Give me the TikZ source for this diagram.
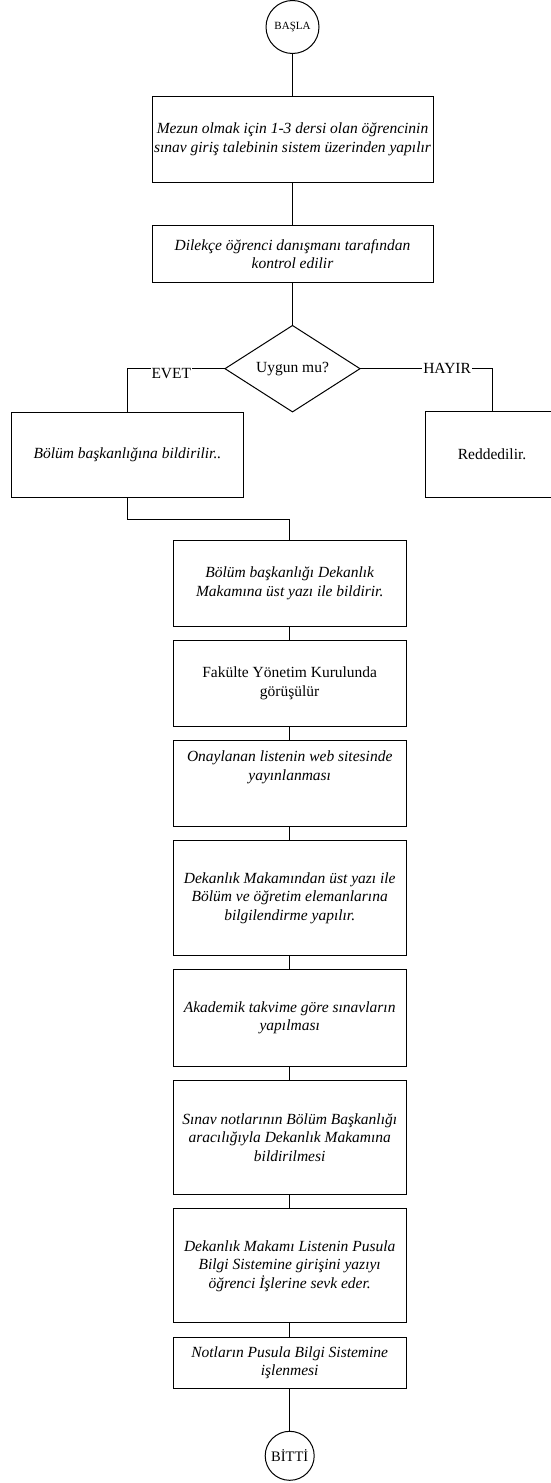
\documentclass[tikz,border=0pt]{standalone}
\usepackage{fontspec}
\setmainfont{Liberation Serif}
\usetikzlibrary{positioning,shapes.geometric}

\def\blocksep{43pt}
\def\stepsep{14.4pt}
\def\stepfont{\fontsize{15.5}{18.5}\selectfont}

\begin{document}
\begin{tikzpicture}[x=1pt,y=1pt,line width=1pt,node distance=\stepsep]
    \tikzstyle{terminal}=[circle,draw,inner sep=0pt,outer sep=0pt]
    \tikzstyle{stepbox}=[rectangle,draw,align=center,inner sep=2pt,outer sep=0pt,font=\stepfont\itshape]
    \tikzstyle{plain stepbox}=[stepbox,font=\stepfont]
    \tikzstyle{upper stepbox}=[stepbox,minimum width=281pt]
    \tikzstyle{lower stepbox}=[stepbox,minimum width=232.7pt]
    \tikzstyle{decision}=[diamond,draw,minimum width=135pt,minimum height=86pt,inner sep=0pt,outer sep=0pt,font=\stepfont]
    \tikzstyle{answer}=[fill=white,inner sep=1pt,font=\stepfont]

    \useasboundingbox (0,0) rectangle (550,-1483);

    % Start, request and check
    \node[terminal,minimum size=53pt,font=\fontsize{11}{13}\selectfont] (basla) at (292.5,-27) {BAŞLA};
    \node[upper stepbox,minimum height=86pt,below=\blocksep of basla] (talep)
        {Mezun olmak için 1-3 dersi olan öğrencinin\\ sınav giriş talebinin sistem üzerinden yapılır};
    \node[upper stepbox,minimum height=57pt,below=\blocksep of talep] (kontrol)
        {Dilekçe öğrenci danışmanı tarafından\\ kontrol edilir};

    % The decision and its two answers
    \node[decision,below=\blocksep of kontrol] (karar) {Uygun mu?};
    \node[stepbox,minimum width=232.7pt,minimum height=85.7pt] (bolum) at (127.4,-454.9)
        {Bölüm başkanlığına bildirilir..};
    \node[plain stepbox,minimum width=134pt,minimum height=85.3pt] (red) at (492,-454.5)
        {Reddedilir.};

    % Draw the steps after the approval
    \node[lower stepbox,minimum height=85.6pt] (S-1) at (289.7,-583.5)
        {Bölüm başkanlığı Dekanlık\\ Makamına üst yazı ile bildirir.};
    \node[lower stepbox,plain stepbox,minimum height=85.6pt,below=of S-1] (S-2)
        {Fakülte Yönetim Kurulunda\\ görüşülür};
    \node[lower stepbox,minimum height=85.6pt,below=of S-2] (S-3)
        {Onaylanan listenin web sitesinde\\ yayınlanması\\[17pt]~};
    \node[lower stepbox,minimum height=114.3pt,below=of S-3] (S-4)
        {Dekanlık Makamından üst yazı ile\\ Bölüm ve öğretim elemanlarına\\ bilgilendirme yapılır.};
    \node[lower stepbox,minimum height=97pt,below=of S-4] (S-5)
        {Akademik takvime göre sınavların\\ yapılması};
    \node[lower stepbox,minimum height=113.7pt,below=of S-5] (S-6)
        {Sınav notlarının Bölüm Başkanlığı\\ aracılığıyla Dekanlık Makamına\\ bildirilmesi};
    \node[lower stepbox,minimum height=114pt,below=of S-6] (S-7)
        {Dekanlık Makamı Listenin Pusula\\ Bilgi Sistemine girişini yazıyı\\ öğrenci İşlerine sevk eder.};
    \node[lower stepbox,minimum height=51pt,below=of S-7] (S-8)
        {Notların Pusula Bilgi Sistemine\\ işlenmesi};

    % End
    \node[terminal,minimum size=49pt,font=\fontsize{14.5}{17}\selectfont,below=\blocksep of S-8] (bitti) {BİTTİ};

    % Connect the top of the chart
    \draw (basla) -- (talep);
    \draw (talep) -- (kontrol);
    \draw (kontrol) -- (karar);
    \draw (karar.west) -| node[answer,pos=0.275,yshift=-5pt] {EVET} (bolum.north);
    \draw (karar.east) -| node[answer,pos=0.33] {HAYIR} (red.north);
    \draw (bolum.south) -- ++(0,-21.3) -| (S-1.north);

    % Connect every step with the next one
    \foreach \source/\dest in {1/2,2/3,3/4,4/5,5/6,6/7,7/8}
        \draw (S-\source) -- (S-\dest);
    \draw (S-8) -- (bitti);
\end{tikzpicture}
\end{document}
